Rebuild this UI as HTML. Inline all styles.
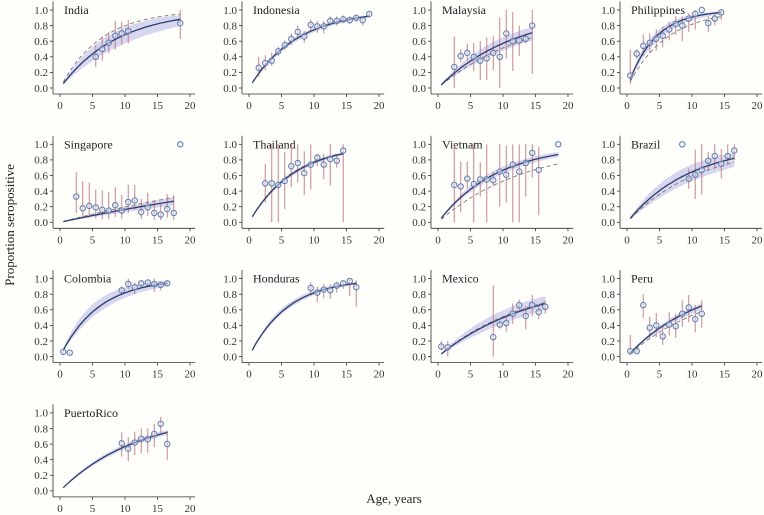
<!DOCTYPE html>
<html><head><meta charset="utf-8">
<style>
html,body{margin:0;padding:0;background:#fefefa;}
svg{display:block;}
svg text{font-family:"Liberation Serif","DejaVu Serif",serif;}
</style></head>
<body>
<svg id="chart" width="764" height="515" viewBox="0 0 764 515" xmlns="http://www.w3.org/2000/svg" font-family="Liberation Serif, DejaVu Serif, serif">
<rect width="764" height="515" fill="#fefefa"/>
<text transform="translate(14,225) rotate(-90)" text-anchor="middle" font-size="13" fill="#222">Proportion seropositive</text>
<text x="394" y="503" text-anchor="middle" font-size="13" fill="#222">Age, years</text>
</svg>
<script>
const countries=["India","Indonesia","Malaysia","Philippines","Singapore","Thailand","Vietnam","Brazil","Colombia","Honduras","Mexico","Peru","PuertoRico"];
const fitRate=[0.115,0.137,0.085,0.24,0.018,0.146,0.11,0.104,0.17,0.17,0.069,0.091,0.084];
const dashRate=[0.16,0.137,0.072,0.17,0.022,0.15,0.075,0.089,0.17,0.17,0.072,0.075,0.084];
const bandLo=[0.085,0.125,0.065,0.2,0.014,0.135,0.098,0.075,0.14,0.155,0.055,0.08,0.077];
const bandHi=[0.15,0.15,0.105,0.28,0.022,0.158,0.125,0.135,0.22,0.19,0.09,0.1,0.092];
const maxAge=[18.5,18.5,14.5,14.5,17.5,14.5,18.5,16.5,16.5,16.5,16.5,11.5,16.5];
const obsAge=[
[5.5,6.5,7.5,8.5,9.5,10.5,18.5],
[1.5,2.5,3.5,4.5,5.5,6.5,7.5,8.5,9.5,10.5,11.5,12.5,13.5,14.5,15.5,16.5,17.5,18.5],
[2.5,3.5,4.5,5.5,6.5,7.5,8.5,9.5,10.5,11.5,12.5,13.5,14.5],
[0.5,1.5,2.5,3.5,4.5,5.5,6.5,7.5,8.5,9.5,10.5,11.5,12.5,13.5,14.5],
[2.5,3.5,4.5,5.5,6.5,7.5,8.5,9.5,10.5,11.5,12.5,13.5,14.5,15.5,16.5,17.5,18.5],
[2.5,3.5,4.5,5.5,6.5,7.5,8.5,9.5,10.5,11.5,12.5,13.5,14.5],
[2.5,3.5,4.5,5.5,6.5,7.5,8.5,9.5,10.5,11.5,12.5,13.5,14.5,15.5,18.5],
[8.5,9.5,10.5,11.5,12.5,13.5,14.5,15.5,16.5],
[0.5,1.5,9.5,10.5,11.5,12.5,13.5,14.5,15.5,16.5],
[9.5,10.5,11.5,12.5,13.5,14.5,15.5,16.5],
[0.5,1.5,8.5,9.5,10.5,11.5,12.5,13.5,14.5,15.5,16.5],
[0.5,1.5,2.5,3.5,4.5,5.5,6.5,7.5,8.5,9.5,10.5,11.5],
[9.5,10.5,11.5,12.5,13.5,14.5,15.5,16.5]];
const obsP=[
[.40,.50,.58,.67,.70,.73,.83],
[.26,.32,.35,.47,.55,.63,.72,.66,.81,.79,.79,.86,.86,.88,.87,.90,.87,.95],
[.27,.41,.45,.40,.35,.38,.45,.40,.70,.60,.61,.63,.80],
[.16,.44,.54,.58,.63,.67,.75,.82,.80,.89,.95,1.0,.83,.89,.97],
[.33,.18,.21,.19,.16,.15,.22,.15,.26,.28,.13,.19,.12,.10,.17,.12,1.0],
[.50,.50,.48,.53,.72,.76,.63,.74,.83,.74,.81,.79,.92],
[.48,.46,.56,.49,.55,.55,.54,.65,.61,.74,.65,.76,.89,.67,1.0],
[1.0,.56,.61,.67,.79,.85,.75,.85,.92],
[.06,.05,.85,.93,.89,.94,.95,.93,.92,.94],
[.88,.82,.86,.85,.91,.94,.97,.89],
[.13,.12,.25,.41,.43,.55,.66,.52,.66,.57,.64],
[.07,.07,.66,.37,.40,.26,.41,.39,.55,.63,.48,.55],
[.61,.54,.62,.67,.66,.73,.86,.60]];
const obsLo=[
[.27,.35,.45,.49,.55,.57,.63],
[.15,.23,.28,.41,.49,.55,.64,.58,.72,.71,.70,.80,.80,.83,.82,.85,.80,.90],
[0,.33,.35,.22,.10,.10,.23,0,.38,.22,.41,.57,.18],
[.05,.37,.41,.45,.48,.52,.61,.68,.60,.72,.75,1.0,.72,.80,.87],
[.12,.06,.06,.05,.04,.04,.07,.05,.12,.16,.04,.08,.03,.03,.06,.03,1.0],
[.25,0,0,.17,.45,.51,.35,.42,.72,.55,.47,.70,0],
[0,.13,.43,0,.33,0,.46,.20,.25,0,0,.33,.57,.09,1.0],
[1.0,.43,.30,.36,.68,.69,.56,.75,.80],
[.04,.04,.79,.86,.80,.89,.90,.83,.85,.90],
[.78,.70,.75,.74,.82,.87,.78,.64],
[.08,0,0,.36,.32,.42,.58,.35,.52,.48,.55],
[.02,.05,.50,.23,.25,.15,.27,.24,.38,.44,.31,.37],
[.44,.38,.46,.48,.49,.56,.74,.40]];
const obsHi=[
[.55,.66,.72,.86,.85,.87,1.0],
[.40,.42,.45,.53,.61,.70,.80,.73,.88,.86,.86,.92,.92,.93,.92,.94,.92,.98],
[.66,.50,.57,.58,.60,.65,.67,.90,1.0,.97,.80,.70,1.0],
[.49,.50,.69,.70,.75,.79,.85,.92,.92,.96,1.0,1.0,.92,.96,1.0],
[.64,.53,.51,.42,.41,.39,.45,.35,.48,.48,.30,.38,.28,.25,.36,.35,1.0],
[.75,1,1,.90,1.0,1.0,.91,1.0,.88,.88,1.0,.87,1.0],
[1,.78,.78,1,.77,1,.65,1.0,.98,1,1,1,1,.97,1.0],
[1.0,.69,.93,1.0,.90,1.0,.94,1.0,1.0],
[.10,.06,.90,1.0,.95,.97,.98,1.0,.96,.97],
[.95,.90,.93,.93,.96,.98,1.0,.98],
[.20,.20,.91,.46,.53,.68,.73,.65,.79,.66,.72],
[.28,.10,.80,.51,.56,.40,.57,.55,.72,.79,.66,.72],
[.75,.69,.76,.80,.80,.86,.95,.77]];
const xTicks=[0,5,10,15,20];
const yTicks=[0,0.2,0.4,0.6,0.8,1.0];
const yTickLabels=["0.0","0.2","0.4","0.6","0.8","1.0"];

const NS="http://www.w3.org/2000/svg";
const svg=document.getElementById('chart');
const FONT='Liberation Serif, DejaVu Serif, serif';
function mk(tag,attrs,parent){const e=document.createElementNS(NS,tag);for(const k in attrs)e.setAttribute(k,attrs[k]);(parent||svg).appendChild(e);return e;}
function model(l,a){return 1-Math.exp(-l*a);}

countries.forEach((name,i)=>{
  const col=i%4,row=Math.floor(i/4);
  const x0=60+col*189, y0=88+row*134.3;
  const sx=a=>x0+a*6.5;
  const sy=p=>y0-p*78;
  const g=mk('g',{});
  
  
  const ax=x0-7;
  const yAx=mk('line',{x1:ax,y1:sy(1.11),x2:ax,y2:y0+6,stroke:'#333','stroke-width':0.8},g);
  
  
  const xAx=mk('line',{x1:ax,y1:y0+6,x2:sx(20.8),y2:y0+6,stroke:'#333','stroke-width':0.8},g);
  
  
  yTicks.forEach((t,k)=>{
    mk('line',{x1:ax-3,y1:sy(t),x2:ax,y2:sy(t),stroke:'#333','stroke-width':0.8},g);
    const tx=mk('text',{x:ax-5,y:sy(t)+3.8,'text-anchor':'end','font-size':11,fill:'#333','font-family':FONT},g);
    tx.textContent=yTickLabels[k];
    
    
  });
  xTicks.forEach(t=>{
    mk('line',{x1:sx(t),y1:y0+6,x2:sx(t),y2:y0+9,stroke:'#333','stroke-width':0.8},g);
    const tx=mk('text',{x:sx(t),y:y0+21,'text-anchor':'middle','font-size':11,fill:'#333','font-family':FONT},g);
    tx.textContent=t;
    
    
  });
  const title=mk('text',{x:x0+4,y:y0-74,'font-size':12,fill:'#222','font-family':FONT},g);
  title.textContent=name;
  
  
  const N=40,a0=0.5,a1=maxAge[i];
  let up=[],dn=[],fit=[],dash=[];
  for(let k=0;k<=N;k++){
    const a=a0+(a1-a0)*k/N;
    up.push(sx(a).toFixed(1)+','+sy(model(bandHi[i],a)).toFixed(1));
    dn.unshift(sx(a).toFixed(1)+','+sy(model(bandLo[i],a)).toFixed(1));
    fit.push(sx(a).toFixed(1)+','+sy(model(fitRate[i],a)).toFixed(1));
    dash.push(sx(a).toFixed(1)+','+sy(model(dashRate[i],a)).toFixed(1));
  }
  const band=mk('polygon',{points:up.concat(dn).join(' '),fill:'#c8c9ea','fill-opacity':0.75},g);
  
  
  const dl=mk('polyline',{points:dash.join(' '),fill:'none',stroke:'#777','stroke-width':0.9,'stroke-dasharray':'4,3'},g);
  
  
  obsAge[i].forEach((a,k)=>{
    const eb=mk('line',{x1:sx(a),y1:sy(obsLo[i][k]),x2:sx(a),y2:sy(obsHi[i][k]),stroke:'#c86b74','stroke-width':1,'stroke-opacity':0.85},g);
    
    
  });
  const fl=mk('polyline',{points:fit.join(' '),fill:'none',stroke:'#2a3e6c','stroke-width':1.3},g);
  
  
  obsAge[i].forEach((a,k)=>{
    const c=mk('circle',{cx:sx(a),cy:sy(obsP[i][k]),r:2.7,fill:'#e4e7f0','fill-opacity':0.5,stroke:'#5a7db4','stroke-width':1},g);
    
    
  });
});
</script>
</body></html>
